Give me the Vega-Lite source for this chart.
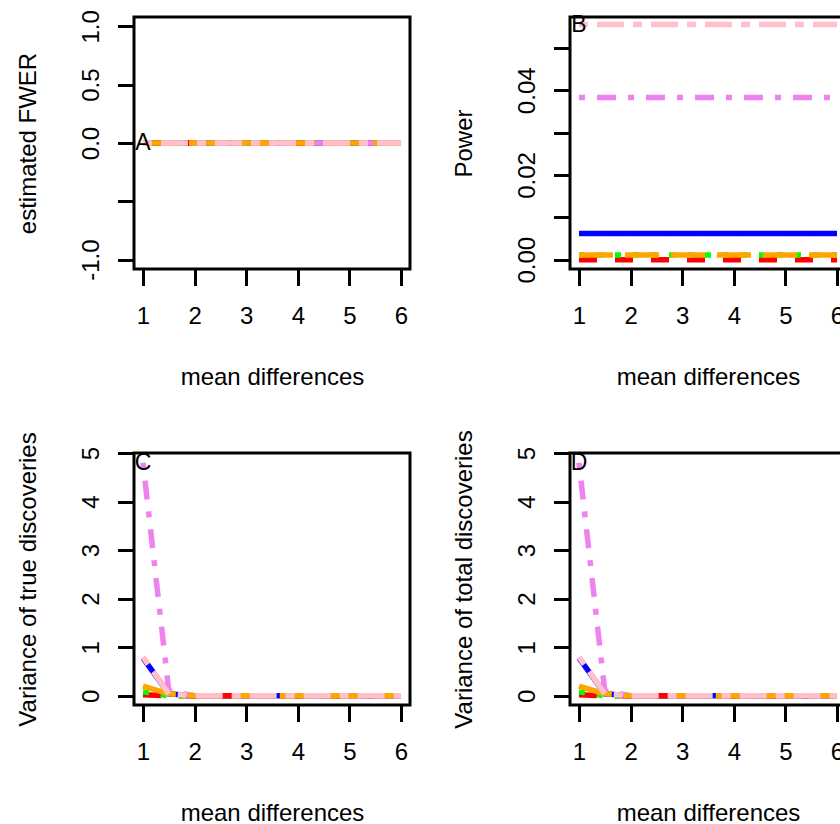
{
  "$schema": "https://vega.github.io/schema/vega-lite/v6.json",
  "background": "white",
  "padding": {"left": 14, "top": 8, "right": 0, "bottom": 0},
  "config": {
    "font": "Liberation Sans",
    "view": {"stroke": "black", "strokeWidth": 3},
    "axis": {
      "domain": false, "grid": false, "ticks": true,
      "tickColor": "black", "tickWidth": 3, "tickSize": 16.5,
      "labelFont": "Liberation Sans", "labelFontSize": 24, "labelColor": "black",
      "labelOverlap": false, "labelFlush": false, "labelBound": false,
      "titleFont": "Liberation Sans", "titleFontSize": 24, "titleFontWeight": "normal", "titleColor": "black"
    },
    "axisX": {"labelAngle": 0, "labelAlign": "center", "labelBaseline": "alphabetic", "labelPadding": 37.5, "titleBaseline": "alphabetic", "titleY": 115.5},
    "axisY": {"labelAngle": 270, "labelAlign": "center", "labelBaseline": "alphabetic", "labelPadding": 19, "titleAngle": 270, "titleBaseline": "alphabetic", "titleX": -98.5}
  },
  "datasets": {
    "lines": [
      {"x": 1, "s": "blue", "a": 0, "b": 0.0062, "c": 0.78, "d": 0.78},
      {"x": 1.5, "s": "blue", "a": 0, "b": 0.0062, "c": 0.04, "d": 0.04},
      {"x": 2, "s": "blue", "a": 0, "b": 0.0062, "c": 0, "d": 0},
      {"x": 3, "s": "blue", "a": 0, "b": 0.0062, "c": 0, "d": 0},
      {"x": 4, "s": "blue", "a": 0, "b": 0.0062, "c": 0, "d": 0},
      {"x": 5, "s": "blue", "a": 0, "b": 0.0062, "c": 0, "d": 0},
      {"x": 6, "s": "blue", "a": 0, "b": 0.0062, "c": 0, "d": 0},
      {"x": 1, "s": "red", "a": 0, "b": 0, "c": 0.02, "d": 0.02},
      {"x": 1.5, "s": "red", "a": 0, "b": 0, "c": 0, "d": 0},
      {"x": 2, "s": "red", "a": 0, "b": 0, "c": 0, "d": 0},
      {"x": 3, "s": "red", "a": 0, "b": 0, "c": 0, "d": 0},
      {"x": 4, "s": "red", "a": 0, "b": 0, "c": 0, "d": 0},
      {"x": 5, "s": "red", "a": 0, "b": 0, "c": 0, "d": 0},
      {"x": 6, "s": "red", "a": 0, "b": 0, "c": 0, "d": 0},
      {"x": 1, "s": "green", "a": 0, "b": 0.0011, "c": 0.08, "d": 0.08},
      {"x": 1.5, "s": "green", "a": 0, "b": 0.0011, "c": 0, "d": 0},
      {"x": 2, "s": "green", "a": 0, "b": 0.0011, "c": 0, "d": 0},
      {"x": 3, "s": "green", "a": 0, "b": 0.0011, "c": 0, "d": 0},
      {"x": 4, "s": "green", "a": 0, "b": 0.0011, "c": 0, "d": 0},
      {"x": 5, "s": "green", "a": 0, "b": 0.0011, "c": 0, "d": 0},
      {"x": 6, "s": "green", "a": 0, "b": 0.0011, "c": 0, "d": 0},
      {"x": 1, "s": "violet", "a": 0, "b": 0.0383, "c": 4.8, "d": 4.8},
      {"x": 1.5, "s": "violet", "a": 0, "b": 0.0383, "c": 0.1, "d": 0.1},
      {"x": 2, "s": "violet", "a": 0, "b": 0.0383, "c": 0, "d": 0},
      {"x": 3, "s": "violet", "a": 0, "b": 0.0383, "c": 0, "d": 0},
      {"x": 4, "s": "violet", "a": 0, "b": 0.0383, "c": 0, "d": 0},
      {"x": 5, "s": "violet", "a": 0, "b": 0.0383, "c": 0, "d": 0},
      {"x": 6, "s": "violet", "a": 0, "b": 0.0383, "c": 0, "d": 0},
      {"x": 1, "s": "orange", "a": 0, "b": 0.0011, "c": 0.2, "d": 0.2},
      {"x": 1.5, "s": "orange", "a": 0, "b": 0.0011, "c": 0.04, "d": 0.04},
      {"x": 2, "s": "orange", "a": 0, "b": 0.0011, "c": 0, "d": 0},
      {"x": 3, "s": "orange", "a": 0, "b": 0.0011, "c": 0, "d": 0},
      {"x": 4, "s": "orange", "a": 0, "b": 0.0011, "c": 0, "d": 0},
      {"x": 5, "s": "orange", "a": 0, "b": 0.0011, "c": 0, "d": 0},
      {"x": 6, "s": "orange", "a": 0, "b": 0.0011, "c": 0, "d": 0},
      {"x": 1, "s": "pink", "a": 0, "b": 0.0555, "c": 0.8, "d": 0.8},
      {"x": 1.5, "s": "pink", "a": 0, "b": 0.0555, "c": 0.04, "d": 0.04},
      {"x": 2, "s": "pink", "a": 0, "b": 0.0555, "c": 0, "d": 0},
      {"x": 3, "s": "pink", "a": 0, "b": 0.0555, "c": 0, "d": 0},
      {"x": 4, "s": "pink", "a": 0, "b": 0.0555, "c": 0, "d": 0},
      {"x": 5, "s": "pink", "a": 0, "b": 0.0555, "c": 0, "d": 0},
      {"x": 6, "s": "pink", "a": 0, "b": 0.0555, "c": 0, "d": 0}
    ]
  },
  "columns": 2,
  "spacing": {"row": 184, "column": 160},
  "bounds": "flush",
  "concat": [
    {
      "width": 276, "height": 252,
      "layer": [
        {
          "data": {"name": "lines"},
          "mark": {"type": "line", "strokeWidth": 5.5, "strokeCap": "butt"},
          "encoding": {
            "x": {"field": "x", "type": "quantitative", "scale": {"domain": [0.826, 6.174], "nice": false, "zero": false}, "axis": {"values": [1, 2, 3, 4, 5, 6], "format": "d", "title": "mean differences"}},
            "y": {"field": "a", "type": "quantitative", "scale": {"domain": [-1.08, 1.08], "nice": false, "zero": false}, "axis": {"values": [-1, -0.5, 0, 0.5, 1], "labelExpr": "datum.value == -0.5 ? '' : (datum.value < 0 ? '-' + format(-datum.value, '.1f') : format(datum.value, '.1f'))", "title": "estimated FWER"}},
            "color": {"field": "s", "type": "nominal", "sort": null, "scale": {"domain": ["blue", "red", "green", "violet", "orange", "pink"], "range": ["#0000FF", "#FF0000", "#00FF00", "#EE82EE", "#FFA500", "#FFC0CB"]}, "legend": null},
            "strokeDash": {"field": "s", "type": "nominal", "sort": null, "scale": {"domain": ["blue", "red", "green", "violet", "orange", "pink"], "range": [[1, 0], [18, 18], [6, 12], [6, 12, 19, 12], [34, 12], [9, 9, 27, 9]]}, "legend": null}
          }
        },
        {
          "data": {"values": [{"x": 1, "a": 0, "t": "A"}]},
          "mark": {"type": "text", "fontSize": 23, "font": "Liberation Sans", "color": "black"},
          "encoding": {
            "x": {"field": "x", "type": "quantitative"},
            "y": {"field": "a", "type": "quantitative"},
            "text": {"field": "t"}
          }
        }
      ]
    },
    {
      "width": 276, "height": 252,
      "layer": [
        {
          "data": {"name": "lines"},
          "mark": {"type": "line", "strokeWidth": 5.5, "strokeCap": "butt"},
          "encoding": {
            "x": {"field": "x", "type": "quantitative", "scale": {"domain": [0.826, 6.174], "nice": false, "zero": false}, "axis": {"values": [1, 2, 3, 4, 5, 6], "format": "d", "title": "mean differences"}},
            "y": {"field": "b", "type": "quantitative", "scale": {"domain": [-0.0022, 0.0573], "nice": false, "zero": false}, "axis": {"values": [0, 0.01, 0.02, 0.03, 0.04, 0.05], "labelExpr": "abs(datum.value) < 1e-9 ? '0.00' : (abs(datum.value - 0.02) < 1e-9 ? '0.02' : (abs(datum.value - 0.04) < 1e-9 ? '0.04' : ''))", "title": "Power"}},
            "color": {"field": "s", "type": "nominal", "sort": null, "scale": {"domain": ["blue", "red", "green", "violet", "orange", "pink"], "range": ["#0000FF", "#FF0000", "#00FF00", "#EE82EE", "#FFA500", "#FFC0CB"]}, "legend": null},
            "strokeDash": {"field": "s", "type": "nominal", "sort": null, "scale": {"domain": ["blue", "red", "green", "violet", "orange", "pink"], "range": [[1, 0], [18, 18], [6, 12], [6, 12, 19, 12], [34, 12], [9, 9, 27, 9]]}, "legend": null}
          }
        },
        {
          "data": {"values": [{"x": 1, "b": 0.0555, "t": "B"}]},
          "mark": {"type": "text", "fontSize": 23, "font": "Liberation Sans", "color": "black"},
          "encoding": {
            "x": {"field": "x", "type": "quantitative"},
            "y": {"field": "b", "type": "quantitative"},
            "text": {"field": "t"}
          }
        }
      ]
    },
    {
      "width": 276, "height": 252,
      "layer": [
        {
          "data": {"name": "lines"},
          "mark": {"type": "line", "strokeWidth": 5.5, "strokeCap": "butt"},
          "encoding": {
            "x": {"field": "x", "type": "quantitative", "scale": {"domain": [0.826, 6.174], "nice": false, "zero": false}, "axis": {"values": [1, 2, 3, 4, 5, 6], "format": "d", "title": "mean differences"}},
            "y": {"field": "c", "type": "quantitative", "scale": {"domain": [-0.19, 5.0], "nice": false, "zero": false}, "axis": {"values": [0, 1, 2, 3, 4, 5], "format": "d", "title": "Variance of true discoveries"}},
            "color": {"field": "s", "type": "nominal", "sort": null, "scale": {"domain": ["blue", "red", "green", "violet", "orange", "pink"], "range": ["#0000FF", "#FF0000", "#00FF00", "#EE82EE", "#FFA500", "#FFC0CB"]}, "legend": null},
            "strokeDash": {"field": "s", "type": "nominal", "sort": null, "scale": {"domain": ["blue", "red", "green", "violet", "orange", "pink"], "range": [[1, 0], [18, 18], [6, 12], [6, 12, 19, 12], [34, 12], [9, 9, 27, 9]]}, "legend": null}
          }
        },
        {
          "data": {"values": [{"x": 1, "c": 4.8, "t": "C"}]},
          "mark": {"type": "text", "fontSize": 23, "font": "Liberation Sans", "color": "black"},
          "encoding": {
            "x": {"field": "x", "type": "quantitative"},
            "y": {"field": "c", "type": "quantitative"},
            "text": {"field": "t"}
          }
        }
      ]
    },
    {
      "width": 276, "height": 252,
      "layer": [
        {
          "data": {"name": "lines"},
          "mark": {"type": "line", "strokeWidth": 5.5, "strokeCap": "butt"},
          "encoding": {
            "x": {"field": "x", "type": "quantitative", "scale": {"domain": [0.826, 6.174], "nice": false, "zero": false}, "axis": {"values": [1, 2, 3, 4, 5, 6], "format": "d", "title": "mean differences"}},
            "y": {"field": "d", "type": "quantitative", "scale": {"domain": [-0.19, 5.0], "nice": false, "zero": false}, "axis": {"values": [0, 1, 2, 3, 4, 5], "format": "d", "title": "Variance of total discoveries"}},
            "color": {"field": "s", "type": "nominal", "sort": null, "scale": {"domain": ["blue", "red", "green", "violet", "orange", "pink"], "range": ["#0000FF", "#FF0000", "#00FF00", "#EE82EE", "#FFA500", "#FFC0CB"]}, "legend": null},
            "strokeDash": {"field": "s", "type": "nominal", "sort": null, "scale": {"domain": ["blue", "red", "green", "violet", "orange", "pink"], "range": [[1, 0], [18, 18], [6, 12], [6, 12, 19, 12], [34, 12], [9, 9, 27, 9]]}, "legend": null}
          }
        },
        {
          "data": {"values": [{"x": 1, "d": 4.8, "t": "D"}]},
          "mark": {"type": "text", "fontSize": 23, "font": "Liberation Sans", "color": "black"},
          "encoding": {
            "x": {"field": "x", "type": "quantitative"},
            "y": {"field": "d", "type": "quantitative"},
            "text": {"field": "t"}
          }
        }
      ]
    }
  ]
}
